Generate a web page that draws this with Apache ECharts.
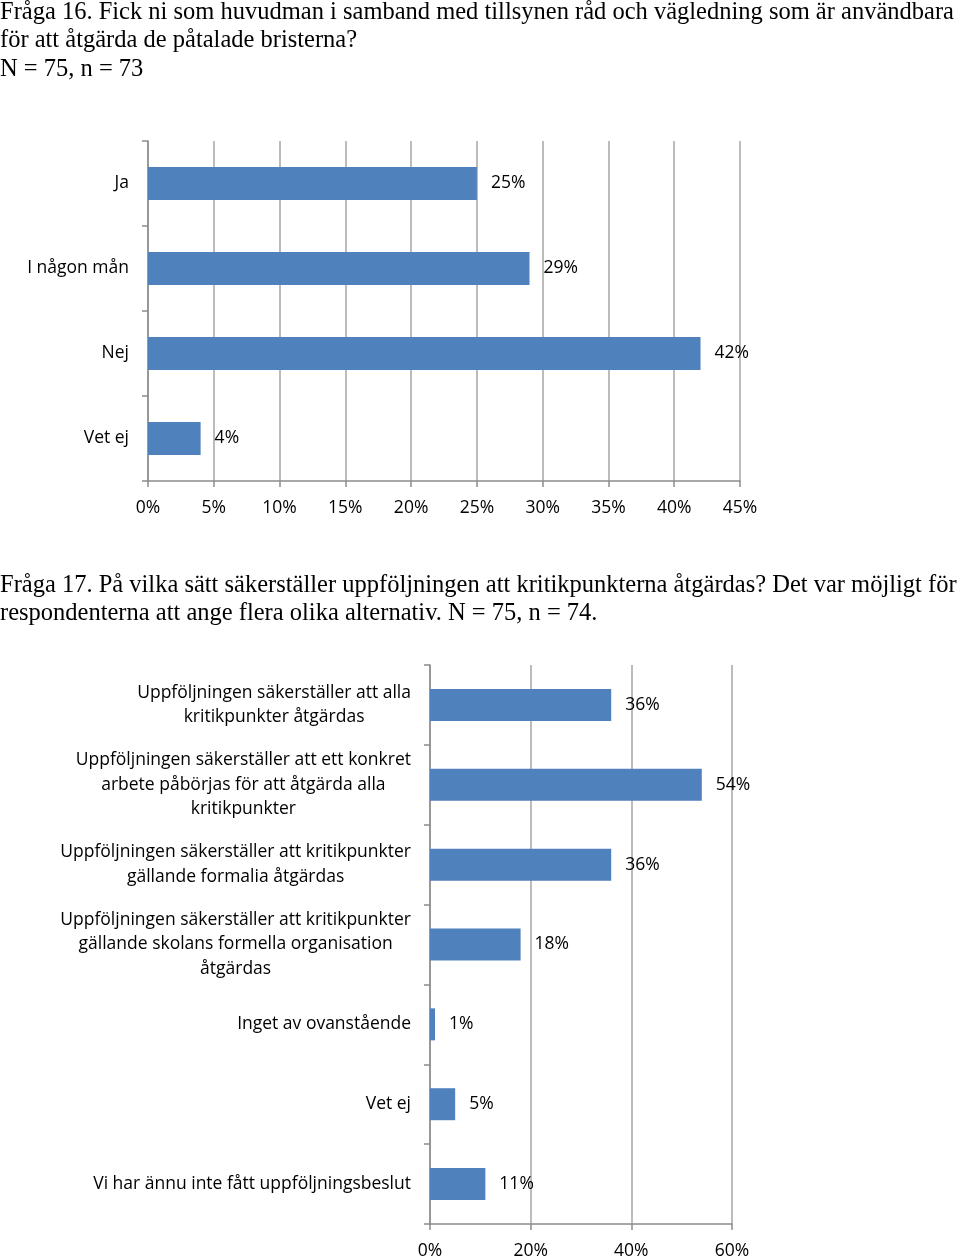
<!DOCTYPE html>
<html>
<head>
<meta charset="utf-8">
<script src="https://cdn.jsdelivr.net/npm/echarts@6/dist/echarts.min.js"></script>
<style>html,body{margin:0;padding:0;background:#fff;}#c{width:960px;height:1260px;}</style>
</head>
<body>
<div id="c"></div>
<script>
const title1Lines = [
  'Fråga 16. Fick ni som huvudman i samband med tillsynen råd och vägledning som är användbara',
  'för att åtgärda de påtalade bristerna?',
  'N = 75, n = 73'
];
const title2Lines = [
  'Fråga 17. På vilka sätt säkerställer uppföljningen att kritikpunkterna åtgärdas? Det var möjligt för',
  'respondenterna att ange flera olika alternativ. N = 75, n = 74.'
];
const categories1 = ['Ja', 'I någon mån', 'Nej', 'Vet ej'];
const values1 = [25, 29, 42, 4];
const ticks1 = [0, 5, 10, 15, 20, 25, 30, 35, 40, 45];

const categories2 = [
  'Uppföljningen säkerställer att alla\nkritikpunkter åtgärdas',
  'Uppföljningen säkerställer att ett konkret\narbete påbörjas för att åtgärda alla\nkritikpunkter',
  'Uppföljningen säkerställer att kritikpunkter\ngällande formalia åtgärdas',
  'Uppföljningen säkerställer att kritikpunkter\ngällande skolans formella organisation\nåtgärdas',
  'Inget av ovanstående',
  'Vet ej',
  'Vi har ännu inte fått uppföljningsbeslut'
];
const values2 = [36, 54, 36, 18, 1, 5, 11];
const ticks2 = [0, 20, 40, 60];

const sans = '"Open Sans"';
const serif = '"Liberation Serif"';
const fs = 17.5;
const barColor = '#4F81BD';
const axisGray = '#8c8c8c';
const gridGray = '#a6a6a6';

const chart = echarts.init(document.getElementById('c'), null, {renderer: 'canvas'});

function titleGraphics(lines, top) {
  return lines.map((t, i) => ({
    type: 'text', left: 0, top: top + i * 28.5,
    style: {text: t, font: '24.5px ' + serif, fill: '#000'}
  }));
}

function xAxisCfg(gridIndex, ticks, margin) {
  return {
    type: 'value', gridIndex,
    min: ticks[0], max: ticks[ticks.length - 1], interval: ticks[1] - ticks[0],
    axisLine: {show: true, lineStyle: {color: axisGray, width: 1.5}},
    axisTick: {show: true, length: 6, lineStyle: {color: axisGray, width: 1.5}},
    splitLine: {show: true, lineStyle: {color: gridGray, width: 1.5}},
    axisLabel: {formatter: '{value}%', fontFamily: sans, fontSize: fs, color: '#000', margin}
  };
}

function yAxisCfg(gridIndex, cats) {
  return {
    type: 'category', gridIndex, data: cats, inverse: true,
    axisLine: {show: true, lineStyle: {color: axisGray, width: 1.5}},
    axisTick: {show: true, length: 6, lineStyle: {color: axisGray, width: 1.5}},
    splitLine: {show: false},
    axisLabel: {
      fontFamily: sans, fontSize: fs, color: '#000', margin: 19, align: 'right',
      formatter: v => v.split('\n').map(l => '{c|' + l + '}').join('\n'),
      rich: {c: {align: 'center', fontFamily: sans, fontSize: fs, color: '#000', lineHeight: 24.5}}
    }
  };
}

chart.setOption({
  animation: false,
  backgroundColor: '#fff',
  grid: [
    {left: 148, top: 141, width: 592, height: 340, containLabel: false},
    {left: 430, top: 665, width: 302, height: 561, containLabel: false}
  ],
  xAxis: [xAxisCfg(0, ticks1, 18), xAxisCfg(1, ticks2, 18)],
  yAxis: [yAxisCfg(0, categories1), yAxisCfg(1, categories2)],
  series: [
    {
      type: 'bar', xAxisIndex: 0, yAxisIndex: 0, data: values1, barWidth: 33,
      itemStyle: {color: barColor},
      label: {show: true, position: 'right', distance: 14, formatter: '{c}%', fontFamily: sans, fontSize: fs, color: '#000'}
    },
    {
      type: 'bar', xAxisIndex: 1, yAxisIndex: 1, data: values2, barWidth: 32,
      itemStyle: {color: barColor},
      label: {show: true, position: 'right', distance: 14, formatter: '{c}%', fontFamily: sans, fontSize: fs, color: '#000'}
    }
  ],
  graphic: titleGraphics(title1Lines, 0).concat(titleGraphics(title2Lines, 573))
});
</script>
</body>
</html>
